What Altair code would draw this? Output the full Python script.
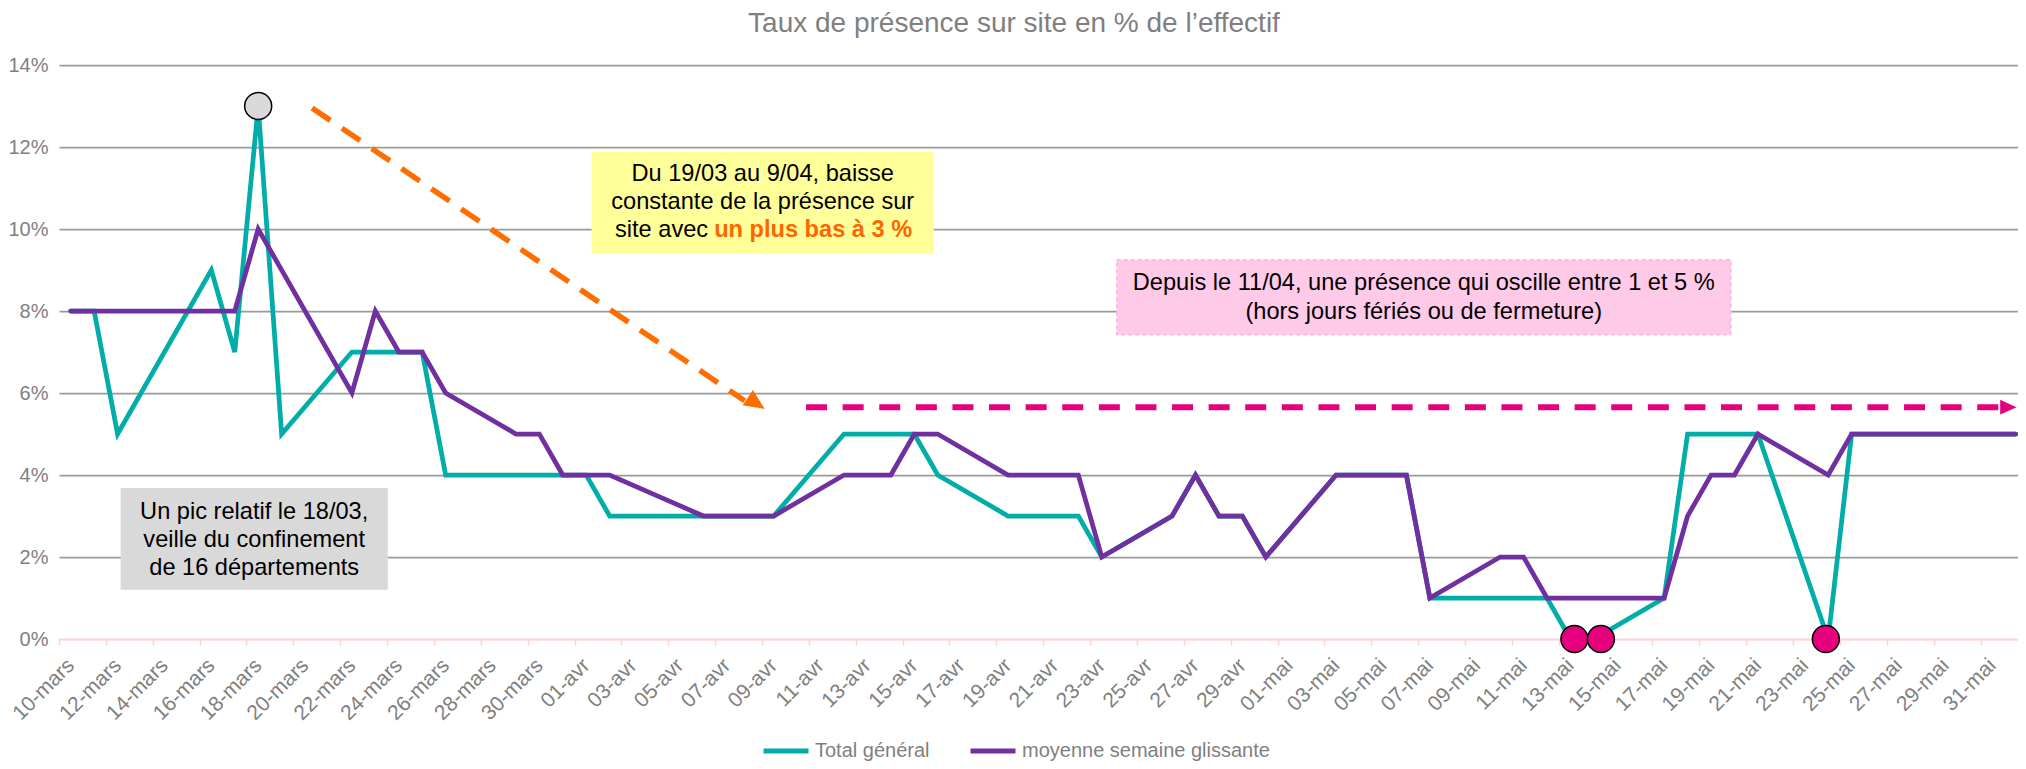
import json
import altair as alt
import pandas as pd

# ---------------- data ----------------
total_dates = ["2020-03-10", "2020-03-11", "2020-03-12", "2020-03-16", "2020-03-17", "2020-03-18",
               "2020-03-19", "2020-03-22", "2020-03-25", "2020-03-26", "2020-04-01", "2020-04-02",
               "2020-04-09", "2020-04-12", "2020-04-15", "2020-04-16", "2020-04-19", "2020-04-22",
               "2020-04-23", "2020-04-26", "2020-04-27", "2020-04-28", "2020-04-29", "2020-04-30",
               "2020-05-03", "2020-05-06", "2020-05-07", "2020-05-12", "2020-05-13", "2020-05-14",
               "2020-05-17", "2020-05-18", "2020-05-21", "2020-05-24", "2020-05-25", "2020-06-01"]
total_values = [8, 8, 5, 9, 7, 13, 5, 7, 7, 4, 4, 3, 3, 5, 5, 4, 3, 3, 2, 3, 4, 3, 3, 2,
                4, 4, 1, 1, 0, 0, 1, 5, 5, 0, 5, 5]

avg_dates = ["2020-03-10", "2020-03-17", "2020-03-18", "2020-03-22", "2020-03-23", "2020-03-24",
             "2020-03-25", "2020-03-26", "2020-03-29", "2020-03-30", "2020-03-31", "2020-04-02",
             "2020-04-06", "2020-04-09", "2020-04-12", "2020-04-14", "2020-04-15", "2020-04-16",
             "2020-04-19", "2020-04-22", "2020-04-23", "2020-04-26", "2020-04-27", "2020-04-28",
             "2020-04-29", "2020-04-30", "2020-05-03", "2020-05-06", "2020-05-07", "2020-05-10",
             "2020-05-11", "2020-05-12", "2020-05-17", "2020-05-18", "2020-05-19", "2020-05-20",
             "2020-05-21", "2020-05-24", "2020-05-25", "2020-06-01"]
avg_values = [8, 8, 10, 6, 8, 7, 7, 6, 5, 5, 4, 4, 3, 3, 4, 4, 5, 5, 4, 4, 2, 3, 4, 3,
              3, 2, 4, 4, 1, 2, 2, 1, 1, 3, 4, 4, 5, 4, 5, 5]

x_labels = ["10-mars", "12-mars", "14-mars", "16-mars", "18-mars", "20-mars", "22-mars", "24-mars",
            "26-mars", "28-mars", "30-mars", "01-avr", "03-avr", "05-avr", "07-avr", "09-avr",
            "11-avr", "13-avr", "15-avr", "17-avr", "19-avr", "21-avr", "23-avr", "25-avr",
            "27-avr", "29-avr", "01-mai", "03-mai", "05-mai", "07-mai", "09-mai", "11-mai",
            "13-mai", "15-mai", "17-mai", "19-mai", "21-mai", "23-mai", "25-mai", "27-mai",
            "29-mai", "31-mai"]
y_ticks = [0, 2, 4, 6, 8, 10, 12, 14]

series_names = ["Total général", "moyenne semaine glissante"]
series_colors = ["#00ADA8", "#7030A0"]
title_text = "Taux de présence sur site en % de l’effectif"

START = pd.Timestamp("2020-03-10")


def to_df(dates, values, name):
    d = pd.DataFrame({"date": pd.to_datetime(dates), "value": values})
    d["day"] = (d["date"] - START).dt.days
    d["series"] = name
    return d[["day", "value", "series"]]


df_total = to_df(total_dates, total_values, series_names[0])
df_avg = to_df(avg_dates, avg_values, series_names[1])

# ---------------- annotations (in data units: day index / %) ----------------
boxes = pd.DataFrame({
    "x": [2.13, 22.23, 44.64], "x2": [13.53, 36.83, 70.85],
    "y": [1.20, 9.39, 7.42], "y2": [3.685, 11.88, 9.25],
    "fill": ["#D9D9D9", "#FFFF99", "#FFC9E8"],
})
texts_center = pd.DataFrame({
    "x": [7.83, 7.83, 7.83, 29.53, 29.53, 57.74, 57.74],
    "y": [3.088, 2.412, 1.737, 11.334, 10.661, 8.685, 7.978],
    "text": ["Un pic relatif le 18/03,", "veille du confinement", "de 16 départements",
             "Du 19/03 au 9/04, baisse", "constante de la présence sur",
             "Depuis le 11/04, une présence qui oscille entre 1 et 5 %",
             "(hors jours fériés ou de fermeture)"],
})
text_right = pd.DataFrame({"x": [27.20], "y": [9.983], "text": ["site avec"]})
text_orange = pd.DataFrame({"x": [27.46], "y": [9.983], "text": ["un plus bas à 3 %"]})

arrows = pd.DataFrame({
    "x": [10.30, 31.38], "x2": [28.76, 82.40],
    "y": [12.95, 5.654], "y2": [5.81, 5.654],
})
heads = pd.DataFrame({"x": [29.62, 83.04], "y": [5.61, 5.654], "angle": [33.66, 0.0]})
grey_circle = pd.DataFrame({"x": [8], "y": [13]})
pink_circles = pd.DataFrame({"x": [64.17, 65.30, 74.90], "y": [0, 0, 0]})

# ---------------- scales ----------------
PX_PER_DAY = 23.43
XMIN, XMAX = -0.5, 83.1
W = round((XMAX - XMIN) * PX_PER_DAY)
H = 574
FONT = "Liberation Sans, Arial, Helvetica, sans-serif"
GREY_TXT = "#808080"
ANN_SIZE = 23.6

label_expr = json.dumps(x_labels) + "[round(datum.value / 2)]"
x_ticks = [2 * i for i in range(len(x_labels))]

xscale = alt.Scale(domain=[XMIN, XMAX], nice=False, zero=False)
yscale = alt.Scale(domain=[0, 14], nice=False, zero=True)

x_axis = alt.Axis(
    values=x_ticks, labelExpr=label_expr, title=None, grid=False,
    domainColor="#FFD2D2", domainWidth=1.5, tickColor="#FFD2D2", tickWidth=1.5, tickSize=6,
    tickOffset=-PX_PER_DAY / 2, labelOffset=PX_PER_DAY / 2,
    labelAngle=-45, labelAlign="right", labelBaseline="middle", labelPadding=17,
    labelFontSize=21, labelFont=FONT, labelColor=GREY_TXT,
    labelOverlap=False, labelFlush=False, labelBound=False,
)
y_axis = alt.Axis(
    values=y_ticks, labelExpr="datum.value + '%'", title=None, domain=False, ticks=False,
    grid=True, gridWidth=1.75,
    gridColor={"condition": {"test": "datum.value === 0", "value": "#FFD2D2"}, "value": "#9A9A9A"},
    labelFontSize=20, labelFont=FONT, labelColor=GREY_TXT, labelPadding=11,
)

X = alt.X("day:Q", scale=xscale, axis=x_axis)
Y = alt.Y("value:Q", scale=yscale, axis=y_axis)

color = alt.Color(
    "series:N",
    scale=alt.Scale(domain=series_names, range=series_colors),
    legend=alt.Legend(
        title=None, orient="none", direction="horizontal", legendX=702, legendY=661,
        symbolType="stroke", symbolStrokeWidth=5, symbolSize=2025,
        labelFontSize=20, labelFont=FONT, labelColor="#7F7F7F", labelLimit=500,
        labelOffset=4, columnPadding=30,
    ),
)

line_total = alt.Chart(df_total).mark_line(strokeWidth=4.75, strokeCap="round").encode(
    x=X, y=Y, color=color)
line_avg = alt.Chart(df_avg).mark_line(strokeWidth=4.75, strokeCap="round").encode(
    x=X, y=Y, color=color)


def xq(f="x"):
    return alt.X(f"{f}:Q", scale=xscale)


def yq(f="y"):
    return alt.Y(f"{f}:Q", scale=yscale)


rects = alt.Chart(boxes).mark_rect().encode(
    x=xq(), x2="x2:Q", y=yq(), y2="y2:Q",
    fill=alt.Fill("fill:N", scale=None))
pink_border = alt.Chart(boxes.iloc[[2]]).mark_rect(
    fill=None, stroke="#F6B9DC", strokeWidth=1.5, strokeDash=[4, 3]).encode(
    x=xq(), x2="x2:Q", y=yq(), y2="y2:Q")

t_center = alt.Chart(texts_center).mark_text(
    font=FONT, fontSize=ANN_SIZE, color="black", align="center", baseline="middle").encode(
    x=xq(), y=yq(), text="text:N")
t_right = alt.Chart(text_right).mark_text(
    font=FONT, fontSize=ANN_SIZE, color="black", align="right", baseline="middle").encode(
    x=xq(), y=yq(), text="text:N")
t_orange = alt.Chart(text_orange).mark_text(
    font=FONT, fontSize=ANN_SIZE, color="#FF6600", fontWeight="bold", align="left",
    baseline="middle").encode(x=xq(), y=yq(), text="text:N")

arrow_orange = alt.Chart(arrows.iloc[[0]]).mark_rule(
    color="#FF6D00", strokeWidth=5.5, strokeDash=[22, 14]).encode(
    x=xq(), x2="x2:Q", y=yq(), y2="y2:Q")
arrow_pink = alt.Chart(arrows.iloc[[1]]).mark_rule(
    color="#E6007E", strokeWidth=6, strokeDash=[21, 15.6]).encode(
    x=xq(), x2="x2:Q", y=yq(), y2="y2:Q")

HEAD = "M 0 0 L -2 -0.9 L -2 0.9 Z"
head_orange = alt.Chart(heads.iloc[[0]]).mark_point(
    shape=HEAD, filled=True, fill="#FF6D00", strokeWidth=0, size=420, opacity=1).encode(
    x=xq(), y=yq(), angle=alt.Angle("angle:Q", scale=None))
head_pink = alt.Chart(heads.iloc[[1]]).mark_point(
    shape=HEAD, filled=True, fill="#E6007E", strokeWidth=0, size=270, opacity=1).encode(
    x=xq(), y=yq(), angle=alt.Angle("angle:Q", scale=None))

c_grey = alt.Chart(grey_circle).mark_point(
    shape="circle", filled=True, fill="#D9D9D9", stroke="black", strokeWidth=1.5,
    size=729, opacity=1).encode(x=xq(), y=yq())
c_pink = alt.Chart(pink_circles).mark_point(
    shape="circle", filled=True, fill="#E6007E", stroke="black", strokeWidth=1.5,
    size=729, opacity=1).encode(x=xq(), y=yq())

# chart title, drawn as a text mark just above the plot area
title = alt.Chart(pd.DataFrame({"t": [title_text]})).mark_text(
    font=FONT, fontSize=28, color="#7F7F7F", align="center", baseline="middle").encode(
    text="t:N", x=alt.value(955), y=alt.value(-41.5))

chart = alt.layer(
    rects, pink_border, t_center, t_right, t_orange,
    arrow_orange, arrow_pink, head_orange, head_pink,
    line_total, line_avg, c_grey, c_pink, title,
).properties(
    width=W, height=H,
    autosize=alt.AutoSizeParams(type="none"),
    padding={"left": 51, "top": 57, "right": 0, "bottom": 122},
    background="white",
).configure_view(stroke=None)

chart.save("out.html", embed_options={"renderer": "svg", "actions": False})
